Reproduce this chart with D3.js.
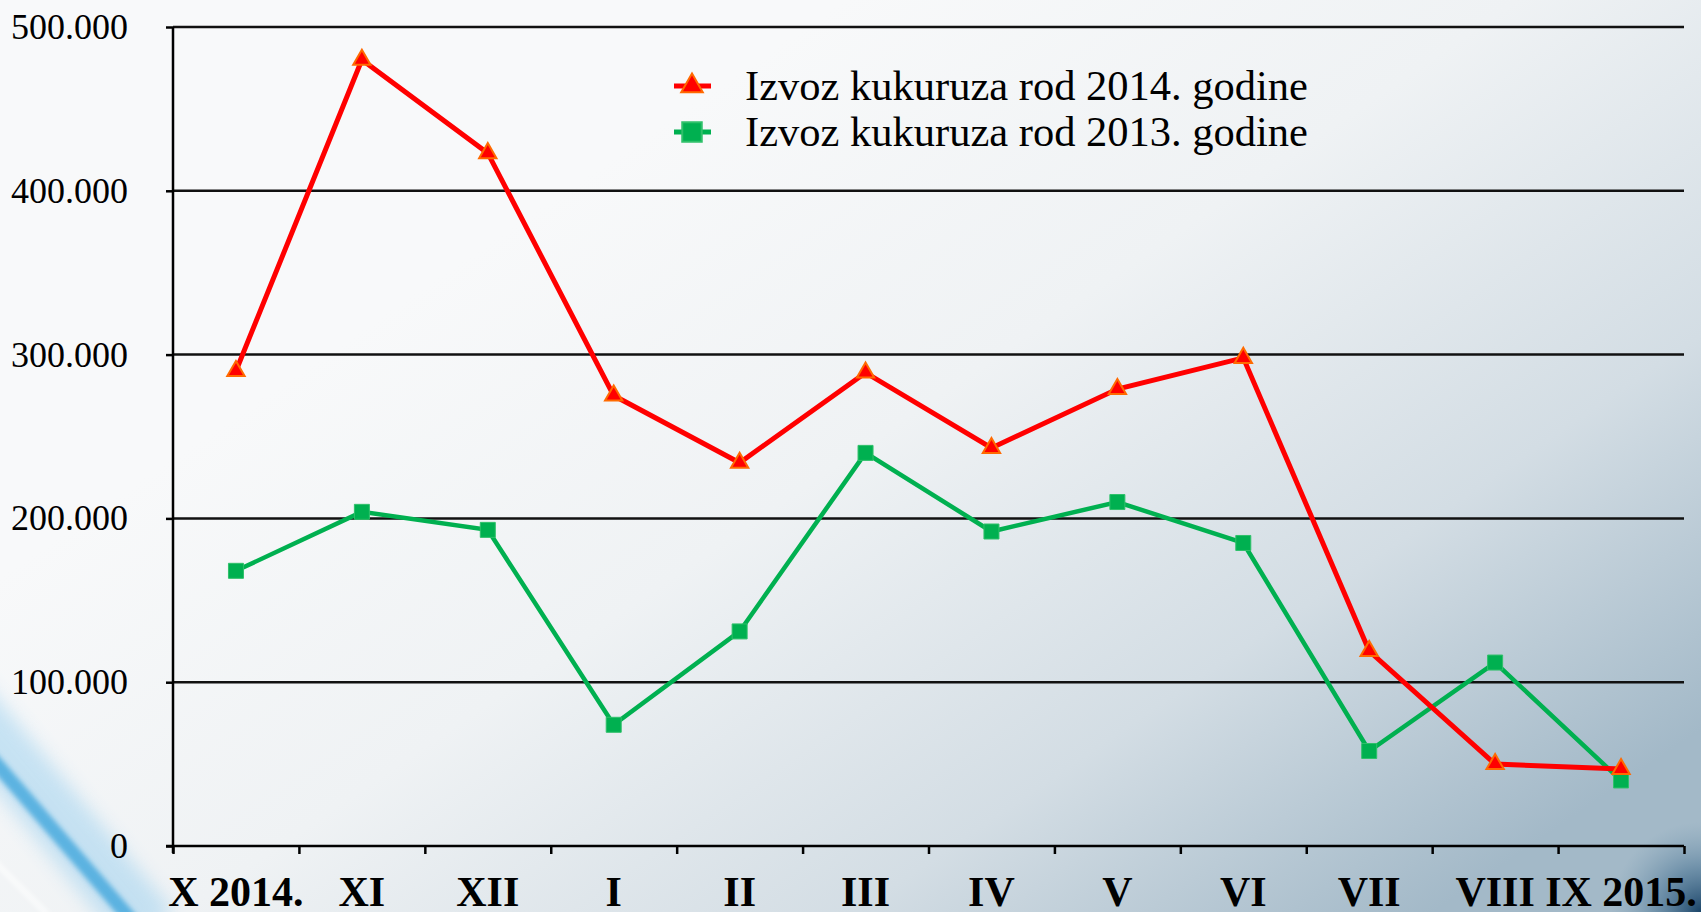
<!DOCTYPE html>
<html>
<head>
<meta charset="utf-8">
<script src="https://cdn.jsdelivr.net/npm/d3@7"></script>
<style>
  body { margin: 0; background: #fff; }
  svg { display: block; }
  text { font-family: 'Liberation Serif', 'Times New Roman', serif; fill: #000; }
</style>
</head>
<body>
<div id="chart"></div>
<script>
const months = ['X 2014.', 'XI', 'XII', 'I', 'II', 'III', 'IV', 'V', 'VI', 'VII', 'VIII', 'IX 2015.']
const export2014 = [290000, 480000, 423000, 275000, 234000, 289000, 243000, 279000, 298000, 119000, 50000, 47000]
const export2013 = [168000, 204000, 193000, 74000, 131000, 240000, 192000, 210000, 185000, 58000, 112000, 40000]
const yTicks = [0, 100000, 200000, 300000, 400000, 500000]
const legendLabels = ['Izvoz kukuruza rod 2014. godine', 'Izvoz kukuruza rod 2013. godine']

const width = 1701
const height = 912
const plot = { left: 173, right: 1684, top: 27, bottom: 846 }

const svg = d3.select('#chart')
  .append('svg')
  .attr('width', width)
  .attr('height', height)

// background
const defs = svg.append('defs')
const bg = defs.append('linearGradient')
  .attr('id', 'bg')
  .attr('x1', 0.3).attr('y1', 0.25)
  .attr('x2', 1).attr('y2', 0.8)
bg.append('stop').attr('offset', 0).attr('stop-color', '#f8f9fa')
bg.append('stop').attr('offset', 0.35).attr('stop-color', '#eff2f4')
bg.append('stop').attr('offset', 0.7).attr('stop-color', '#d3dde4')
bg.append('stop').attr('offset', 1).attr('stop-color', '#a3b9c8')

const corner = defs.append('radialGradient')
  .attr('id', 'corner')
  .attr('cx', 1).attr('cy', 1).attr('r', 1)
corner.append('stop').attr('offset', 0).attr('stop-color', '#1b4468').attr('stop-opacity', 1)
corner.append('stop').attr('offset', 0.5).attr('stop-color', '#3d6a8c').attr('stop-opacity', 0.5)
corner.append('stop').attr('offset', 1).attr('stop-color', '#6f94ad').attr('stop-opacity', 0)

defs.append('filter').attr('id', 'blur')
  .attr('x', -0.5).attr('y', -0.5).attr('width', 2).attr('height', 2)
  .append('feGaussianBlur').attr('stdDeviation', 9)
defs.append('filter').attr('id', 'blur2')
  .append('feGaussianBlur').attr('stdDeviation', 2.5)

svg.append('rect')
  .attr('width', width)
  .attr('height', height)
  .attr('fill', 'url(#bg)')

svg.append('rect')
  .attr('x', width - 90).attr('y', height - 90)
  .attr('width', 90).attr('height', 90)
  .attr('fill', 'url(#corner)')

svg.append('line')
  .attr('x1', -40).attr('y1', 700).attr('x2', 150).attr('y2', 930)
  .attr('stroke', '#8fcbee').attr('stroke-width', 60).attr('opacity', 0.45)
  .attr('filter', 'url(#blur)')
svg.append('line')
  .attr('x1', -20).attr('y1', 745).attr('x2', 140).attr('y2', 930)
  .attr('stroke', '#4aaade').attr('stroke-width', 14).attr('opacity', 0.85)
  .attr('filter', 'url(#blur2)')
svg.append('line')
  .attr('x1', -5).attr('y1', 862).attr('x2', 48).attr('y2', 915)
  .attr('stroke', '#ffffff').attr('stroke-width', 4).attr('opacity', 0.8)
  .attr('filter', 'url(#blur2)')

// scales
const x = d3.scaleBand().domain(months).range([plot.left, plot.right])
const xEdge = d3.scaleLinear().domain([0, months.length]).range([plot.left, plot.right])
const y = d3.scaleLinear().domain([0, 500000]).range([plot.bottom, plot.top])

const locale = d3.formatLocale({ decimal: ',', thousands: '.', grouping: [3] })
const fmt = locale.format(',')

// grid
svg.append('g')
  .selectAll('line')
  .data(yTicks.slice(1))
  .join('line')
  .attr('x1', plot.left)
  .attr('x2', plot.right)
  .attr('y1', (d) => y(d))
  .attr('y2', (d) => y(d))
  .attr('stroke', '#111')
  .attr('stroke-width', 2.5)

// y axis
const axisY = svg.append('g')
  .attr('transform', `translate(${plot.left},0)`)
  .call(d3.axisLeft(y).tickValues(yTicks).tickSize(7).tickPadding(38).tickFormat(fmt))
axisY.select('.domain').remove()
axisY.selectAll('line').attr('stroke', '#000').attr('stroke-width', 2.5)
axisY.selectAll('text')
  .attr('font-family', "'Liberation Serif', serif")
  .attr('font-size', 36)
  .attr('fill', '#000')
svg.append('line')
  .attr('x1', plot.left).attr('x2', plot.left)
  .attr('y1', plot.top).attr('y2', plot.bottom + 7)
  .attr('stroke', '#000').attr('stroke-width', 2.5)

// x axis ticks on band edges
const axisXEdge = svg.append('g')
  .attr('transform', `translate(0,${plot.bottom})`)
  .call(d3.axisBottom(xEdge).ticks(months.length).tickSize(8).tickFormat(''))
axisXEdge.select('.domain').remove()
axisXEdge.selectAll('line').attr('stroke', '#000').attr('stroke-width', 2.5)
svg.append('line')
  .attr('x1', plot.left - 7).attr('x2', plot.right)
  .attr('y1', plot.bottom).attr('y2', plot.bottom)
  .attr('stroke', '#000').attr('stroke-width', 2.5)

// x labels
const axisX = svg.append('g')
  .attr('transform', `translate(0,${plot.bottom})`)
  .call(d3.axisBottom(x).tickSize(0))
axisX.select('.domain').remove()
axisX.selectAll('text')
  .attr('y', 60)
  .attr('dy', 0)
  .attr('font-family', "'Liberation Serif', serif")
  .attr('font-size', 42)
  .attr('font-weight', 'bold')
  .attr('fill', '#000')

// series
const line = d3.line()
  .x((d, i) => x(months[i]) + x.bandwidth() / 2)
  .y((d) => y(d))

svg.append('path')
  .attr('d', line(export2013))
  .attr('fill', 'none')
  .attr('stroke', '#00b050')
  .attr('stroke-width', 4.5)
svg.append('path')
  .attr('d', line(export2014))
  .attr('fill', 'none')
  .attr('stroke', '#ff0000')
  .attr('stroke-width', 5)

const square = d3.symbol().type(d3.symbolSquare).size(225)
const triangle = d3.symbol().type(d3.symbolTriangle).size(130)

svg.append('g')
  .selectAll('path')
  .data(export2013)
  .join('path')
  .attr('d', square)
  .attr('transform', (d, i) => `translate(${x(months[i]) + x.bandwidth() / 2},${y(d)})`)
  .attr('fill', '#00b050')
  .attr('stroke', '#2fc06a')
  .attr('stroke-width', 1)

svg.append('g')
  .selectAll('path')
  .data(export2014)
  .join('path')
  .attr('d', triangle)
  .attr('transform', (d, i) => `translate(${x(months[i]) + x.bandwidth() / 2},${y(d)})`)
  .attr('fill', '#ff0000')
  .attr('stroke', '#ff6a00')
  .attr('stroke-width', 2)

// legend
const legend = svg.append('g')
const legendRows = [
  { label: legendLabels[0], color: '#ff0000', stroke: '#ff6a00', symbol: d3.symbol().type(d3.symbolTriangle).size(200), y: 86, base: 100 },
  { label: legendLabels[1], color: '#00b050', stroke: '#2fc06a', symbol: d3.symbol().type(d3.symbolSquare).size(380), y: 132, base: 146 }
]
legendRows.forEach((r) => {
  legend.append('line')
    .attr('x1', 674).attr('x2', 711)
    .attr('y1', r.y).attr('y2', r.y)
    .attr('stroke', r.color).attr('stroke-width', 5)
  legend.append('path')
    .attr('d', r.symbol)
    .attr('transform', `translate(692,${r.y})`)
    .attr('fill', r.color)
    .attr('stroke', r.stroke)
    .attr('stroke-width', 2)
  legend.append('text')
    .attr('x', 745)
    .attr('y', r.base)
    .attr('font-size', 42.5)
    .text(r.label)
})
</script>
</body>
</html>
